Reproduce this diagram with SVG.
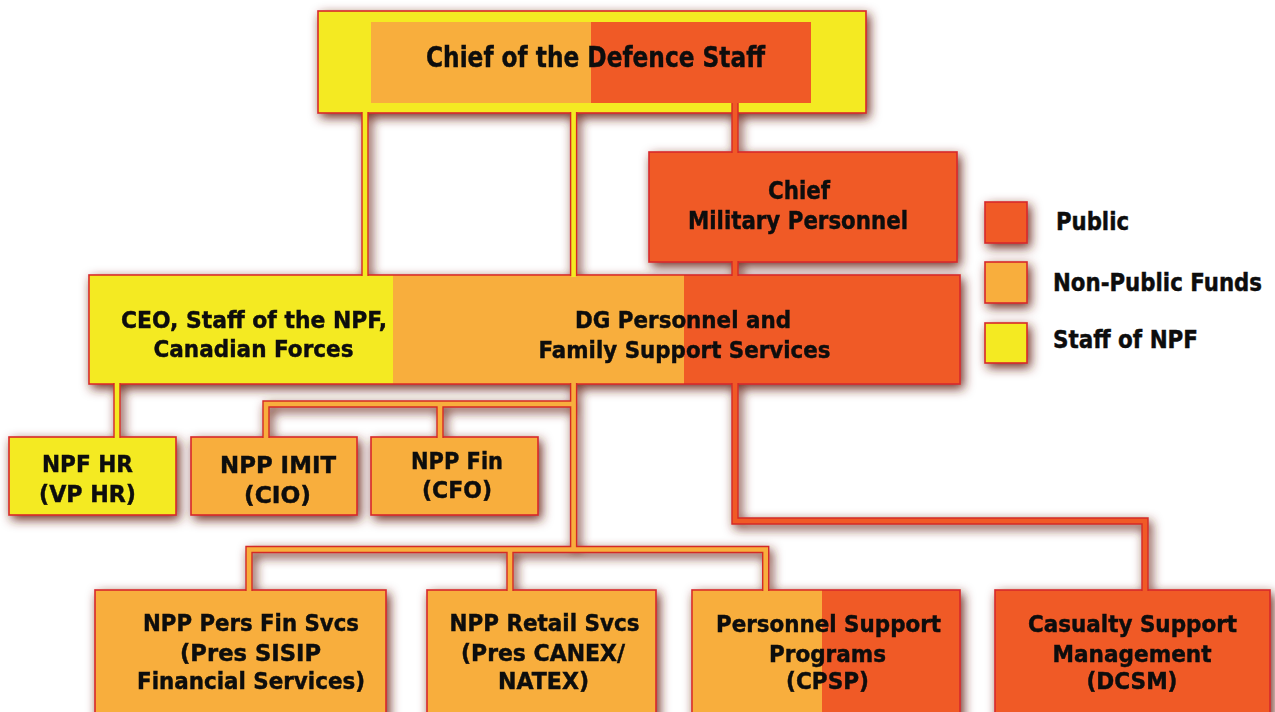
<svg xmlns="http://www.w3.org/2000/svg" width="1275" height="712" viewBox="0 0 1275 712">
  <style>
    .box { stroke: #d7282a; stroke-width: 1.6; }
    .pub { fill: #f05a28; }
    .npf { fill: #f8ae3c; }
    .stf { fill: #f4ea22; }
    .flat { stroke: none; }
    .lbl { font-family: "DejaVu Sans", "Liberation Sans", sans-serif; font-weight: bold; fill: #0d0d0d; stroke: #0d0d0d; stroke-width: 0.45; text-anchor: middle; }
    .leg { font-family: "DejaVu Sans", "Liberation Sans", sans-serif; font-weight: bold; fill: #0d0d0d; stroke: #0d0d0d; stroke-width: 0.45; font-size: 24px; }
    .edge { fill: none; stroke: #d42a26; stroke-width: 7.4; stroke-linejoin: miter; stroke-linecap: butt; }
    .core { fill: none; stroke-width: 4.6; stroke-linejoin: miter; stroke-linecap: butt; }
    .core.y { stroke: #f4ea22; }
    .core.o { stroke: #f8ae3c; }
    .core.r { stroke: #f05a28; }
  </style>
  <defs>
    <filter id="shade" filterUnits="userSpaceOnUse" x="-30" y="-30" width="1335" height="780">
      <feGaussianBlur in="SourceAlpha" stdDeviation="5.5"/>
      <feOffset dx="3" dy="4" result="blur"/>
      <feFlood flood-color="#6a261a" flood-opacity="0.95"/>
      <feComposite in2="blur" operator="in"/>
      <feMerge>
        <feMergeNode/>
        <feMergeNode in="SourceGraphic"/>
      </feMerge>
    </filter>
  </defs>
  <rect width="1275" height="712" fill="#ffffff"/>

  <g filter="url(#shade)">
    <!-- Chief of the Defence Staff -->
    <g id="cds">
      <rect class="box stf" x="318" y="11" width="548" height="102"/>
      <rect class="flat npf" x="371" y="22" width="220" height="81"/>
      <rect class="flat pub" x="591" y="22" width="220" height="81"/>
      <text class="lbl" x="595.5" y="67" font-size="27.5" textLength="339" lengthAdjust="spacingAndGlyphs">Chief of the Defence Staff</text>
    </g>

    <!-- Chief Military Personnel -->
    <g id="cmp">
      <rect class="box pub" x="649" y="152" width="308" height="110"/>
      <text class="lbl" x="799" y="199" font-size="24.5" textLength="62" lengthAdjust="spacingAndGlyphs">Chief</text>
      <text class="lbl" x="798" y="229" font-size="24.5" textLength="220" lengthAdjust="spacingAndGlyphs">Military Personnel</text>
    </g>

    <!-- CEO / DG combined band -->
    <g id="ceo-dg">
      <rect class="box pub" x="89" y="275" width="871" height="109"/>
      <rect class="flat stf" x="89.8" y="275.8" width="303.2" height="107.4"/>
      <rect class="flat npf" x="393" y="275.8" width="291" height="107.4"/>
      <text class="lbl" x="254" y="328" font-size="23.5" textLength="266" lengthAdjust="spacingAndGlyphs">CEO, Staff of the NPF,</text>
      <text class="lbl" x="253.5" y="357" font-size="23.5" textLength="200" lengthAdjust="spacingAndGlyphs">Canadian Forces</text>
      <text class="lbl" x="683" y="328" font-size="23.5" textLength="216" lengthAdjust="spacingAndGlyphs">DG Personnel and</text>
      <text class="lbl" x="684.5" y="357.5" font-size="23.5" textLength="292" lengthAdjust="spacingAndGlyphs">Family Support Services</text>
    </g>

    <g id="npf-hr">
      <rect class="box stf" x="9" y="437" width="167" height="78"/>
      <text class="lbl" x="87.5" y="472" font-size="23.5" textLength="91" lengthAdjust="spacingAndGlyphs">NPF HR</text>
      <text class="lbl" x="87.5" y="502" font-size="23.5" textLength="97" lengthAdjust="spacingAndGlyphs">(VP HR)</text>
    </g>

    <g id="npp-imit">
      <rect class="box npf" x="191" y="437" width="166" height="78"/>
      <text class="lbl" x="278" y="473" font-size="23.5" textLength="116" lengthAdjust="spacingAndGlyphs">NPP IMIT</text>
      <text class="lbl" x="277.5" y="503" font-size="23.5" textLength="67" lengthAdjust="spacingAndGlyphs">(CIO)</text>
    </g>

    <g id="npp-fin">
      <rect class="box npf" x="371" y="437" width="167" height="78"/>
      <text class="lbl" x="457" y="469" font-size="23.5" textLength="92" lengthAdjust="spacingAndGlyphs">NPP Fin</text>
      <text class="lbl" x="457" y="498" font-size="23.5" textLength="70" lengthAdjust="spacingAndGlyphs">(CFO)</text>
    </g>

    <g id="npp-pers-fin">
      <rect class="box npf" x="95" y="590" width="291" height="135"/>
      <text class="lbl" x="251" y="631" font-size="23" textLength="216" lengthAdjust="spacingAndGlyphs">NPP Pers Fin Svcs</text>
      <text class="lbl" x="250.5" y="661" font-size="23" textLength="141" lengthAdjust="spacingAndGlyphs">(Pres SISIP</text>
      <text class="lbl" x="251" y="689" font-size="23" textLength="228" lengthAdjust="spacingAndGlyphs">Financial Services)</text>
    </g>

    <g id="npp-retail">
      <rect class="box npf" x="427" y="590" width="229" height="135"/>
      <text class="lbl" x="544.5" y="631" font-size="23" textLength="190" lengthAdjust="spacingAndGlyphs">NPP Retail Svcs</text>
      <text class="lbl" x="543" y="661" font-size="23" textLength="164" lengthAdjust="spacingAndGlyphs">(Pres CANEX/</text>
      <text class="lbl" x="543.5" y="689" font-size="23" textLength="91" lengthAdjust="spacingAndGlyphs">NATEX)</text>
    </g>

    <g id="cpsp">
      <rect class="box pub" x="692" y="590" width="268" height="135"/>
      <rect class="flat npf" x="692.8" y="590.8" width="129.2" height="134"/>
      <text class="lbl" x="828.5" y="632" font-size="23" textLength="225" lengthAdjust="spacingAndGlyphs">Personnel Support</text>
      <text class="lbl" x="827.5" y="662" font-size="23" textLength="117" lengthAdjust="spacingAndGlyphs">Programs</text>
      <text class="lbl" x="827.5" y="689" font-size="23" textLength="83" lengthAdjust="spacingAndGlyphs">(CPSP)</text>
    </g>

    <g id="dcsm">
      <rect class="box pub" x="995" y="590" width="275" height="135"/>
      <text class="lbl" x="1132.5" y="632" font-size="23" textLength="209" lengthAdjust="spacingAndGlyphs">Casualty Support</text>
      <text class="lbl" x="1132" y="662" font-size="23" textLength="159" lengthAdjust="spacingAndGlyphs">Management</text>
      <text class="lbl" x="1132" y="689" font-size="23" textLength="91" lengthAdjust="spacingAndGlyphs">(DCSM)</text>
    </g>

    <!-- Connectors: red outline first, coloured core on top so junctions merge -->
    <g id="connectors">
      <path class="edge" d="M365,112 V276"/>
      <path class="edge" d="M573.6,112 V276"/>
      <path class="edge" d="M117,383 V438"/>
      <path class="edge" d="M735,103 V153"/>
      <path class="edge" d="M735,261 V276"/>
      <path class="edge" d="M735,383 V521 H1145 V591"/>
      <path class="edge" d="M573.6,383 V549.5"/>
      <path class="edge" d="M249,591 V549.5 H765.7 V591"/>
      <path class="edge" d="M510,549.5 V591"/>
      <path class="edge" d="M266,438 V404 H573.6"/>
      <path class="edge" d="M440,404 V438"/>

      <path class="core y" d="M365,111 V277"/>
      <path class="core y" d="M573.6,111 V277"/>
      <path class="core y" d="M117,382 V439"/>
      <path class="core r" d="M735,102 V154"/>
      <path class="core r" d="M735,260 V277"/>
      <path class="core r" d="M735,382 V521 H1145 V592"/>
      <path class="core o" d="M573.6,382 V549.5"/>
      <path class="core o" d="M249,592 V549.5 H765.7 V592"/>
      <path class="core o" d="M510,549.5 V592"/>
      <path class="core o" d="M266,439 V404 H573.6"/>
      <path class="core o" d="M440,404 V439"/>
    </g>
  </g>

  <!-- Legend -->
  <g id="legend-public">
    <rect class="box pub" x="985" y="202" width="42" height="41" filter="url(#shade)"/>
    <text class="leg" x="1056" y="230" textLength="73" lengthAdjust="spacingAndGlyphs">Public</text>
  </g>
  <g id="legend-npf">
    <rect class="box npf" x="985" y="262" width="42" height="41" filter="url(#shade)"/>
    <text class="leg" x="1053" y="291" textLength="209" lengthAdjust="spacingAndGlyphs">Non-Public Funds</text>
  </g>
  <g id="legend-staff">
    <rect class="box stf" x="985" y="323" width="42" height="40" filter="url(#shade)"/>
    <text class="leg" x="1053" y="348" textLength="145" lengthAdjust="spacingAndGlyphs">Staff of NPF</text>
  </g>
</svg>
